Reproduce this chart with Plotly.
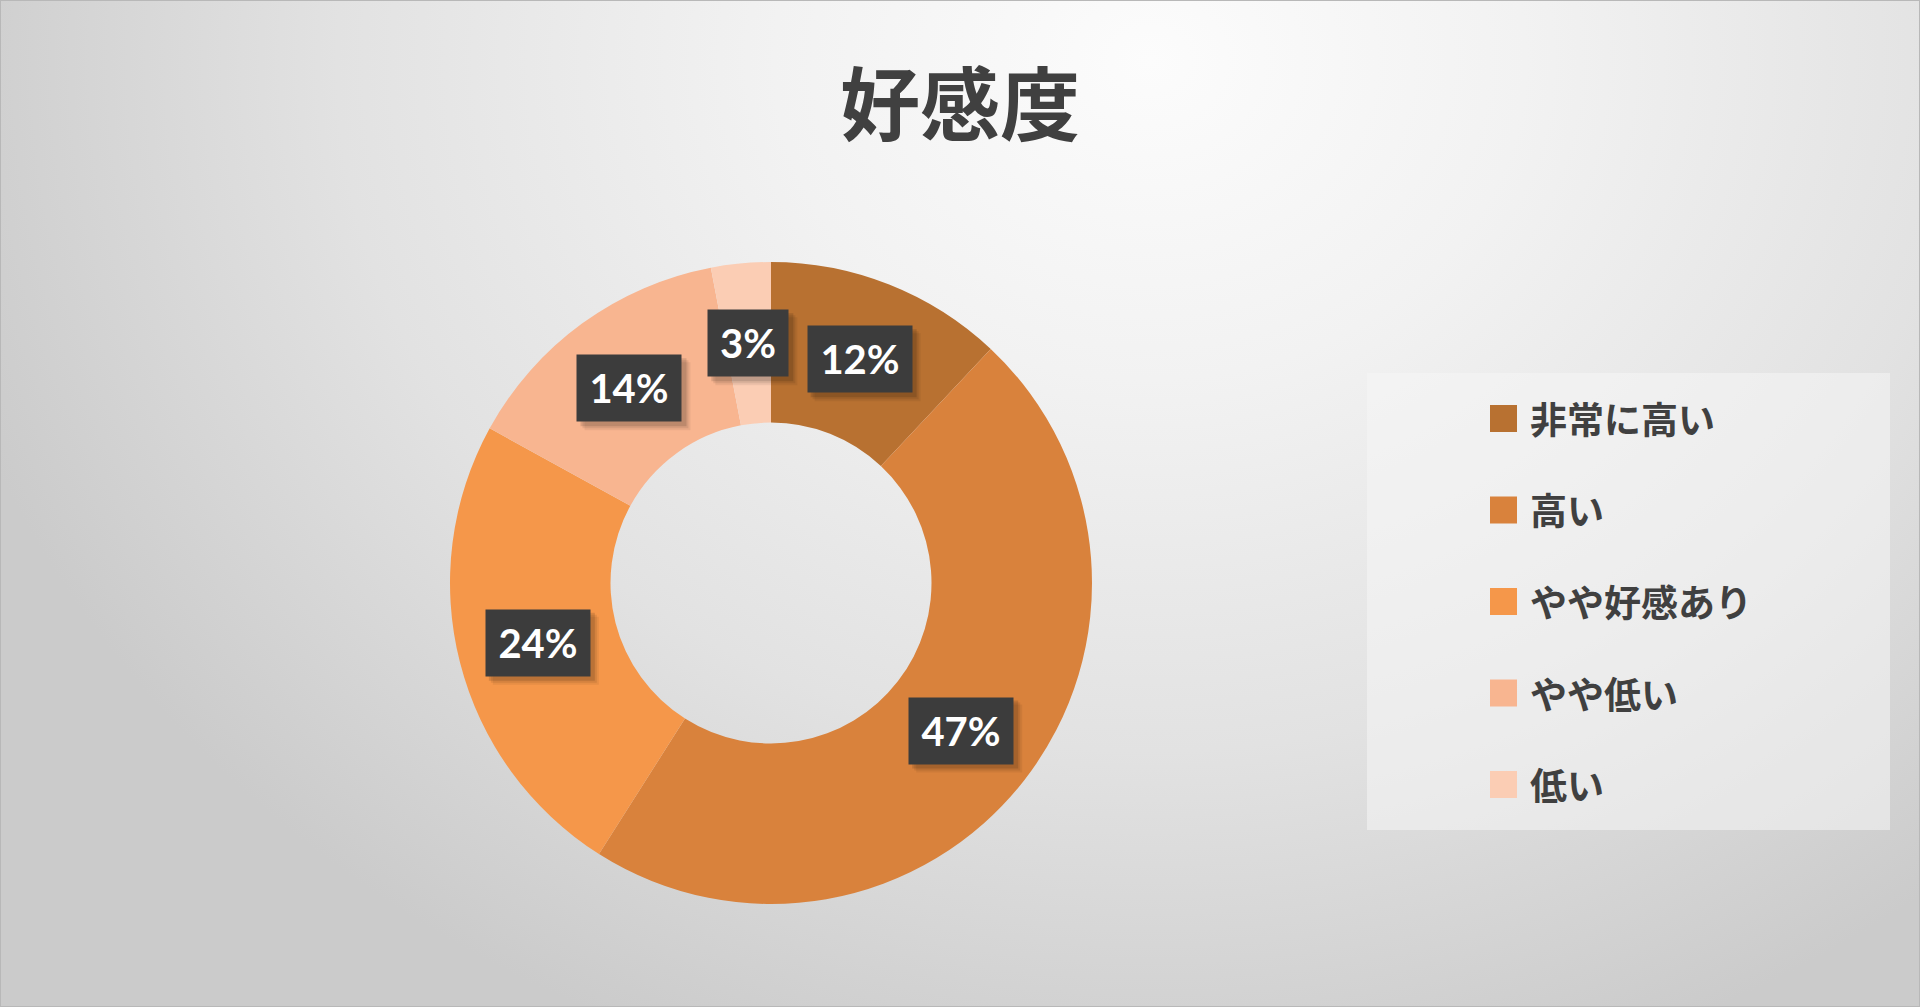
import base64
import math
import plotly.graph_objects as go

# ---- data ----
categories = ["非常に高い", "高い", "やや好感あり", "やや低い", "低い"]
values = [12, 47, 24, 14, 3]
colors = ["#B87131", "#D9823C", "#F5974A", "#F8B590", "#FBCDB4"]
title_text = "好感度"

# ---- layout constants (pixels) ----
W, H = 1920, 1007
CX, CY = 771, 583          # donut centre
R_OUT = 321
HOLE = 0.5


def px(x):
    return x / W


def py(y):
    return 1 - y / H


fig = go.Figure()
fig.add_trace(go.Pie(
    labels=categories,
    values=values,
    hole=HOLE,
    sort=False,
    direction="clockwise",
    rotation=0,
    marker=dict(colors=colors, line=dict(width=0)),
    textinfo="none",
    showlegend=False,
    domain=dict(x=[px(CX - R_OUT), px(CX + R_OUT)],
                y=[py(CY + R_OUT), py(CY - R_OUT)]),
    hovertemplate="%{label}: %{percent}<extra></extra>",
))

# background radial gradient as svg image
svg = f"""<svg xmlns='http://www.w3.org/2000/svg' width='{W}' height='{H}' viewBox='0 0 {W} {H}' preserveAspectRatio='none'>
<defs><radialGradient id='g' gradientUnits='userSpaceOnUse' cx='1150' cy='60' r='1250' gradientTransform='translate(1150 60) scale(1 0.85) translate(-1150 -60)'>
<stop offset='0' stop-color='#fcfcfc'/>
<stop offset='0.3' stop-color='#f2f2f2'/>
<stop offset='0.65' stop-color='#e2e2e2'/>
<stop offset='1' stop-color='#cbcbcb'/>
</radialGradient></defs>
<rect width='{W}' height='{H}' fill='url(#g)'/>
</svg>"""
src = "data:image/svg+xml;base64," + base64.b64encode(svg.encode()).decode()

shapes = []
annotations = []

# legend box
shapes.append(dict(type="rect", xref="paper", yref="paper",
                   x0=px(1367), x1=px(1890), y0=py(830), y1=py(373),
                   fillcolor="rgba(246,246,246,0.55)", line=dict(width=0),
                   layer="below"))

# data labels at the middle of each ring segment
total = sum(values)
r_mid = R_OUT * (1 + HOLE) / 2
BH = 66
cum = 0
for v in values:
    mid = (cum + v / 2) / total * 2 * math.pi
    cum += v
    lx = px(CX + r_mid * math.sin(mid))
    ly = py(CY - r_mid * math.cos(mid))
    label = f"{round(v / total * 100)}%"
    BW = 32 + 24 * len(label)
    for off, op in [(9, 0.06), (7, 0.08), (5, 0.12)]:
        shapes.append(dict(type="rect", xref="paper", yref="paper",
                           xsizemode="pixel", ysizemode="pixel",
                           xanchor=lx, yanchor=ly,
                           x0=-BW / 2 + off - 2, x1=BW / 2 + off,
                           y0=-BH / 2 - off, y1=BH / 2 - off + 2,
                           fillcolor=f"rgba(0,0,0,{op})", line=dict(width=0)))
    annotations.append(dict(
        x=lx, y=ly, xref="paper", yref="paper", showarrow=False,
        xanchor="center", yanchor="middle",
        text=label,
        width=BW, height=BH, align="center", valign="middle",
        bgcolor="#3c3c3c", borderpad=0,
        font=dict(family="Lato", size=40, color="white", weight="bold"),
    ))

# custom legend
LEG_Y0, LEG_DY = 418, 91.5
for i, (cat, col) in enumerate(zip(categories, colors)):
    yc = LEG_Y0 + i * LEG_DY
    shapes.append(dict(type="rect", xref="paper", yref="paper",
                       x0=px(1490), x1=px(1517), y0=py(yc + 14), y1=py(yc - 13),
                       fillcolor=col, line=dict(width=0)))
    annotations.append(dict(
        x=px(1528), y=py(yc), xref="paper", yref="paper", showarrow=False,
        xanchor="left", yanchor="middle", text=cat,
        font=dict(family="Noto Sans CJK JP", size=37, color="#404040", weight="bold"),
    ))

# thin frame
shapes.append(dict(type="rect", xref="paper", yref="paper",
                   x0=0, x1=1, y0=0, y1=1,
                   line=dict(color="#b8b8b8", width=2), fillcolor="rgba(0,0,0,0)"))

fig.update_layout(
    width=W, height=H,
    margin=dict(l=0, r=0, t=0, b=0),
    paper_bgcolor="#e6e6e6",
    images=[dict(source=src, xref="paper", yref="paper", x=0, y=1,
                 sizex=1, sizey=1, sizing="stretch", layer="below",
                 xanchor="left", yanchor="top")],
    title=dict(text=title_text, x=0.5, xanchor="center",
               y=py(106), yanchor="middle",
               font=dict(family="Noto Sans CJK JP", size=80, color="#404040", weight="bold")),
    shapes=shapes,
    annotations=annotations,
    showlegend=False,
)

fig.write_html("out.html", config={"displayModeBar": False},
               post_script="document.body.style.margin='0';document.body.style.overflow='hidden';")
